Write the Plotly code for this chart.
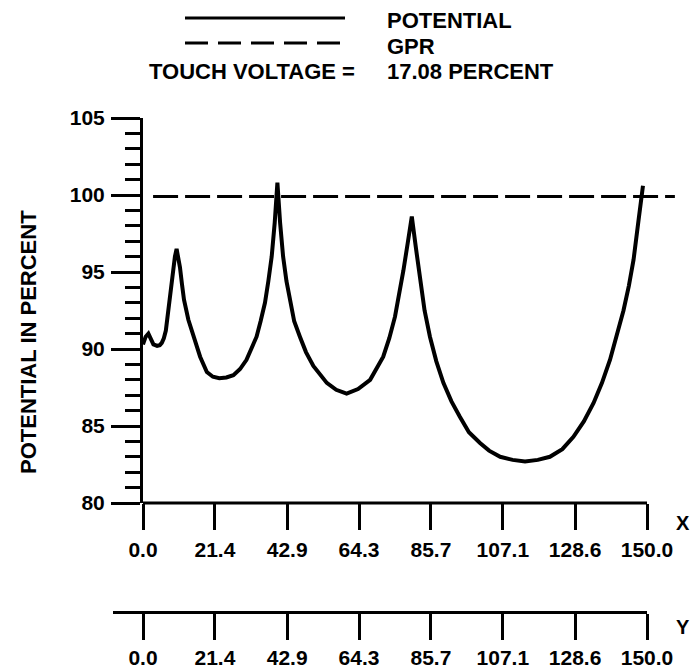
import plotly.graph_objects as go

# ---------------- data ----------------
POT_X = [0.0, 0.8, 1.6, 2.4, 3.1, 4.2, 5.0, 5.6, 6.2, 6.8, 7.4, 8.0, 9.0, 9.5, 10.0,
         10.5, 11.0, 11.6, 12.2, 13.5, 15.0, 17.0, 19.0, 20.8, 22.7, 24.8, 26.9, 28.9,
         30.8, 33.8, 35.0, 36.3, 37.3, 38.3, 39.2, 40.0, 40.8, 41.7, 42.7, 43.8, 45.0,
         46.7, 48.5, 50.7, 52.7, 54.7, 57.5, 60.6, 64.0, 67.6, 71.5, 73.3, 75.0, 76.3,
         77.5, 78.8, 80.0, 81.2, 82.4, 83.8, 85.4, 87.3, 89.4, 91.8, 94.3, 97.0, 100.3,
         103.0, 106.3, 110.0, 113.7, 117.5, 121.1, 124.8, 128.1, 131.2, 134.1, 136.6,
         139.0, 141.0, 143.0, 144.6, 146.0, 147.5, 148.8]
POT_Y = [90.3, 90.8, 91.0, 90.6, 90.3, 90.2, 90.25, 90.4, 90.7, 91.2, 92.3, 93.4, 95.3, 96.0, 96.5,
         96.0, 95.3, 94.2, 93.2, 91.9, 90.8, 89.5, 88.5, 88.2, 88.1, 88.15, 88.3, 88.7,
         89.3, 90.8, 91.8, 93.0, 94.4, 96.0, 98.2, 100.8, 98.2, 96.0, 94.4, 93.0, 91.8,
         90.8, 89.8, 88.9, 88.3, 87.8, 87.35, 87.1, 87.4, 88.0, 89.5, 90.7, 92.1, 93.6,
         95.1, 96.9, 98.6, 96.6, 94.5, 92.5, 90.8, 89.2, 87.8, 86.6, 85.6, 84.6, 83.9,
         83.4, 83.0, 82.8, 82.7, 82.8, 83.0, 83.5, 84.3, 85.3, 86.5, 87.8,
         89.3, 90.8, 92.5, 94.1, 95.8, 98.4, 100.6]
GPR_X = [3.0, 158.3]
GPR_Y = [99.9, 99.9]

X_TICKS = [0.0, 21.4, 42.9, 64.3, 85.7, 107.1, 128.6, 150.0]
X_TICK_LABELS = ["0.0", "21.4", "42.9", "64.3", "85.7", "107.1", "128.6", "150.0"]
Y_TICKS = [80, 85, 90, 95, 100, 105]
Y_TICK_LABELS = ["80", "85", "90", "95", "100", "105"]

LEGEND_POTENTIAL = "POTENTIAL"
LEGEND_GPR = "GPR"
TOUCH_LABEL = "TOUCH VOLTAGE ="
TOUCH_VALUE = "17.08 PERCENT"
Y_TITLE = "POTENTIAL IN PERCENT"

# ---------------- layout geometry (pixels in the 693x669 window) ----------------
W, H = 693, 669
def fx(px):
    return px / W
def fy(py):
    return 1 - py / H

AX_LEFT, AX_RIGHT, PLOT_RIGHT = 143, 647, 675
AX_TOP, AX_BOTTOM = 118, 503
LOW_LEFT, LOW_Y = 113, 611

x_span = X_TICKS[-1] - X_TICKS[0]
px_per_unit = (AX_RIGHT - AX_LEFT) / x_span
x_view_max = X_TICKS[0] + (PLOT_RIGHT - AX_LEFT) / px_per_unit
x2_view_min = X_TICKS[0] - (AX_LEFT - LOW_LEFT) / px_per_unit

FONT = "Liberation Sans"
BLACK = "black"
tickfont = dict(family=FONT, size=21, color=BLACK, weight="bold")

fig = go.Figure()
fig.add_trace(go.Scatter(x=POT_X, y=POT_Y, mode="lines",
                         line=dict(color=BLACK, width=4), showlegend=False,
                         xaxis="x", yaxis="y"))
fig.add_trace(go.Scatter(x=GPR_X, y=GPR_Y, mode="lines",
                         line=dict(color=BLACK, width=3, dash="25px,7px"), showlegend=False,
                         xaxis="x", yaxis="y"))
# empty trace to materialize the lower axis subplot
fig.add_trace(go.Scatter(x=[], y=[], mode="lines", showlegend=False, xaxis="x2", yaxis="y2"))

fig.update_layout(
    template="none",
    width=W, height=H,
    margin=dict(l=0, r=0, t=0, b=0, autoexpand=False),
    paper_bgcolor="white", plot_bgcolor="white",
    showlegend=False,
    xaxis=dict(domain=[fx(AX_LEFT), fx(PLOT_RIGHT)], range=[X_TICKS[0], x_view_max],
               anchor="y", automargin=False, showline=False, showgrid=False, zeroline=False,
               ticks="outside", ticklen=26, tickwidth=3, tickcolor=BLACK,
               tickmode="array", tickvals=X_TICKS, ticktext=X_TICK_LABELS,
               tickfont=tickfont, ticklabelstandoff=2),
    yaxis=dict(domain=[fy(AX_BOTTOM), fy(AX_TOP)], range=[Y_TICKS[0], Y_TICKS[-1]],
               anchor="x", automargin=False, showline=True, linewidth=3, linecolor=BLACK,
               showgrid=False, zeroline=False,
               ticks="outside", ticklen=29, tickwidth=3, tickcolor=BLACK,
               tickmode="array", tickvals=Y_TICKS, ticktext=Y_TICK_LABELS,
               tickfont=tickfont, ticklabelstandoff=2,
               minor=dict(ticks="outside", dtick=1, ticklen=15, tickwidth=3,
                          tickcolor=BLACK, showgrid=False)),
    xaxis2=dict(domain=[fx(LOW_LEFT), fx(AX_RIGHT)], range=[x2_view_min, X_TICKS[-1]],
                anchor="y2", automargin=False, showline=True, linewidth=3, linecolor=BLACK,
                showgrid=False, zeroline=False,
                ticks="outside", ticklen=26, tickwidth=3, tickcolor=BLACK,
                tickmode="array", tickvals=X_TICKS, ticktext=X_TICK_LABELS,
                tickfont=tickfont, ticklabelstandoff=0),
    yaxis2=dict(domain=[fy(LOW_Y), fy(LOW_Y - 10)], anchor="x2", visible=False,
                automargin=False, range=[0, 1]),
)

shapes = [
    # x-axis baseline of main plot (0 .. 150)
    dict(type="line", xref="x", yref="paper", x0=X_TICKS[0], x1=X_TICKS[-1],
         y0=fy(AX_BOTTOM), y1=fy(AX_BOTTOM), line=dict(color=BLACK, width=3)),
    # legend samples
    dict(type="line", xref="paper", yref="paper", x0=fx(185), x1=fx(345),
         y0=fy(18), y1=fy(18), line=dict(color=BLACK, width=3)),
    dict(type="line", xref="paper", yref="paper", x0=fx(185), x1=fx(342),
         y0=fy(43), y1=fy(43), line=dict(color=BLACK, width=3, dash="23px,10px")),
]
fig.update_layout(shapes=shapes)

def txt(size):
    return dict(family=FONT, size=size, color=BLACK, weight="bold")

ann = [
    dict(text=LEGEND_POTENTIAL, x=fx(385), y=fy(21), xanchor="left", yanchor="middle", font=txt(22)),
    dict(text=LEGEND_GPR, x=fx(385), y=fy(46), xanchor="left", yanchor="middle", font=txt(22)),
    dict(text=TOUCH_LABEL, x=fx(357), y=fy(72), xanchor="right", yanchor="middle", font=txt(22)),
    dict(text=TOUCH_VALUE, x=fx(385), y=fy(72), xanchor="left", yanchor="middle", font=txt(22)),
    dict(text="X", x=fx(692), y=fy(523), xanchor="right", yanchor="middle", font=txt(20)),
    dict(text="Y", x=fx(692), y=fy(627), xanchor="right", yanchor="middle", font=txt(20)),
    dict(text=Y_TITLE, x=fx(28), y=fy(342), xanchor="center", yanchor="middle",
         textangle=-90, font=txt(22)),
]
for a in ann:
    a.update(xref="paper", yref="paper", showarrow=False)
fig.update_layout(annotations=ann)

# remove the default page margin so the figure fills the window exactly
fig.write_html("out.html",
               config={"displayModeBar": False, "staticPlot": True},
               post_script="document.body.style.margin='0';document.body.style.overflow='hidden';")
